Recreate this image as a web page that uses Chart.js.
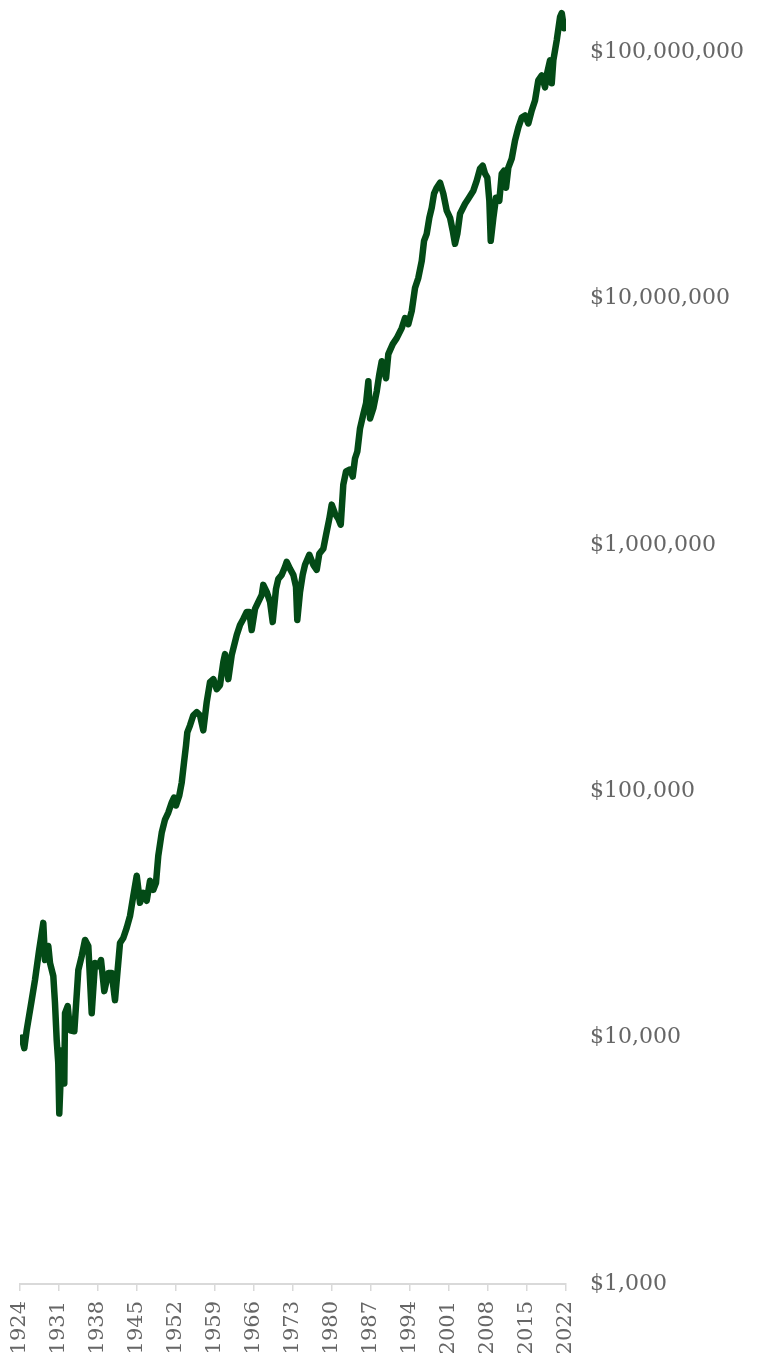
<!DOCTYPE html>
<html>
<head>
<meta charset="utf-8">
<script src="https://cdn.jsdelivr.net/npm/chart.js@4.4.1/dist/chart.umd.min.js"></script>
<style>
  html, body { margin: 0; padding: 0; background: #fff; }
  #wrap { position: relative; width: 759px; height: 1355px; }
</style>
</head>
<body>
<div id="wrap"><canvas id="growthChart"></canvas></div>
<script>
// growth of the portfolio, read as (year, dollars)
const years = [1924.31, 1924.77, 1925.2, 1926.1, 1926.69, 1927.41, 1928.18, 1928.49, 1929.08, 1929.39,
  1929.98, 1930.28, 1930.59, 1930.87, 1931.05, 1931.49, 1931.95, 1932.08, 1932.56, 1932.98,
  1933.75, 1934.47, 1935.08, 1935.67, 1936.26, 1936.87, 1937.46, 1938.06, 1938.54, 1939.13,
  1939.85, 1940.46, 1941.05, 1941.95, 1942.54, 1943.15, 1943.75, 1944.34, 1944.95, 1945.54,
  1946.13, 1946.74, 1947.34, 1947.93, 1948.41, 1948.82, 1949.44, 1950.03, 1950.62, 1951.23,
  1951.64, 1952.0, 1952.59, 1953.03, 1953.44, 1953.8, 1954.03, 1954.52, 1955.11, 1955.72,
  1956.31, 1956.9, 1957.51, 1958.1, 1958.7, 1959.31, 1959.9, 1960.49, 1960.8, 1961.39,
  1962.0, 1962.9, 1963.49, 1964.08, 1964.69, 1965.16, 1965.59, 1966.18, 1966.78, 1967.39,
  1967.67, 1968.28, 1968.88, 1969.36, 1969.95, 1970.37, 1970.98, 1971.57, 1971.87, 1972.47,
  1973.06, 1973.54, 1973.77, 1974.26, 1974.74, 1975.16, 1975.93, 1976.65, 1977.26, 1977.72,
  1978.44, 1978.93, 1979.52, 1979.95, 1980.54, 1981.13, 1981.57, 1982.03, 1982.52, 1983.24,
  1983.72, 1984.13, 1984.55, 1985.03, 1985.62, 1986.11, 1986.52, 1986.83, 1987.42, 1988.03,
  1988.49, 1988.93, 1989.7, 1990.11, 1990.9, 1991.62, 1992.52, 1993.11, 1993.7, 1994.31,
  1994.9, 1995.49, 1996.11, 1996.52, 1997.0, 1997.47, 1997.9, 1998.31, 1998.8, 1999.39,
  1999.98, 2000.59, 2001.19, 2001.67, 2002.08, 2002.5, 2002.98, 2003.88, 2004.47, 2005.37,
  2005.98, 2006.57, 2007.05, 2007.47, 2007.88, 2008.24, 2008.49, 2008.96, 2009.44, 2010.03,
  2010.47, 2010.88, 2011.24, 2011.65, 2012.26, 2012.85, 2013.45, 2014.06, 2014.65, 2015.24,
  2015.85, 2016.44, 2017.03, 2017.65, 2018.24, 2018.65, 2019.14, 2019.44, 2019.73, 2020.34,
  2020.93, 2021.24, 2021.65];

const values = [10000, 9060, 10720, 14200, 17130, 22470, 29230, 20660, 23560, 20090,
  17780, 13810, 9760, 7870, 4920, 8880, 6520, 12570, 13430, 10720,
  10620, 18810, 21450, 24930, 23560, 12570, 20090, 19530, 20660, 15450,
  18290, 18290, 14200, 24230, 25390, 27900, 31210, 37650, 45420, 35260,
  38730, 35930, 43340, 39830, 42540, 54770, 67970, 76780, 81970, 90030,
  94360, 87540, 96140, 108600, 131000, 153700, 173500, 185300, 203500, 209400,
  203500, 176800, 229900, 277300, 285300, 259800, 269700, 334500, 360600, 285300,
  357300, 430900, 473300, 500600, 534600, 534600, 451600, 549900, 587100, 627000,
  688700, 644900, 587100, 486800, 663300, 728600, 756500, 815300, 854400, 800100,
  756500, 675900, 496000, 644900, 756500, 830700, 912300, 830700, 792600, 920900,
  965000, 1100000, 1278000, 1458000, 1340000, 1278000, 1209000, 1759000, 1987000, 2024000,
  1895000, 2244000, 2396000, 2973000, 3390000, 3757000, 4618000, 3264000, 3586000, 4206000,
  4932000, 5572000, 4750000, 5950000, 6535000, 6912000, 7592000, 8337000, 7882000, 8903000,
  11050000, 12130000, 14230000, 17160000, 18320000, 21290000, 23390000, 26670000, 28200000, 29560000,
  26670000, 22740000, 21290000, 18850000, 16690000, 18320000, 22110000, 24280000, 25450000, 27430000,
  30120000, 33700000, 34660000, 32160000, 30970000, 24970000, 17160000, 21290000, 25680000, 24970000,
  32160000, 33070000, 28200000, 34010000, 37020000, 43830000, 49500000, 54380000, 55410000, 51400000,
  58070000, 63770000, 76910000, 80610000, 72030000, 82910000, 92770000, 74780000, 92770000, 111900000,
  138900000, 144200000, 125200000];

// axis ticks
const yearTicks = [1924, 1931, 1938, 1945, 1952, 1959, 1966, 1973, 1980, 1987, 1994, 2001, 2008, 2015, 2022];
const dollarTicks = [1000, 10000, 100000, 1000000, 10000000, 100000000];

const points = years.map((yr, i) => ({ x: yr, y: values[i] }));
const labelFont = { family: '"DejaVu Serif", "Liberation Serif", serif', size: 21 };

new Chart(document.getElementById('growthChart'), {
  type: 'line',
  data: {
    datasets: [{
      data: points,
      borderColor: '#034a16',
      borderWidth: 6.5,
      borderJoinStyle: 'round',
      borderCapStyle: 'round',
      pointRadius: 0,
      tension: 0
    }]
  },
  options: {
    responsive: true,
    maintainAspectRatio: false,
    animation: false,
    devicePixelRatio: 1,
    layout: { padding: 0 },
    plugins: { legend: { display: false }, tooltip: { enabled: false } },
    scales: {
      x: {
        type: 'linear',
        min: 1924,
        max: 2022,
        afterBuildTicks: scale => { scale.ticks = yearTicks.map(v => ({ value: v })); },
        afterFit: scale => {
          scale.height = 71;
          scale.paddingLeft = 20;
          scale.paddingRight = 0;
        },
        grid: { drawOnChartArea: false, drawTicks: true, tickLength: 7, color: '#d9d9d9', lineWidth: 1.5 },
        border: { display: true, color: '#d9d9d9', width: 2 },
        ticks: {
          autoSkip: false,
          minRotation: 90,
          maxRotation: 90,
          padding: 10,
          color: '#666',
          font: labelFont,
          callback: v => String(v)
        }
      },
      y: {
        type: 'logarithmic',
        position: 'right',
        min: 1000,
        max: 1.63e8,
        afterBuildTicks: scale => { scale.ticks = dollarTicks.map(v => ({ value: v })); },
        afterFit: scale => {
          scale.width = 193;
          scale.paddingTop = 0;
          scale.paddingBottom = 0;
        },
        grid: { display: false, drawTicks: false },
        border: { display: false },
        ticks: {
          padding: 24,
          color: '#666',
          font: { family: labelFont.family, size: 22 },
          callback: v => '$' + Number(v).toLocaleString('en-US')
        }
      }
    }
  }
});
</script>
</body>
</html>
